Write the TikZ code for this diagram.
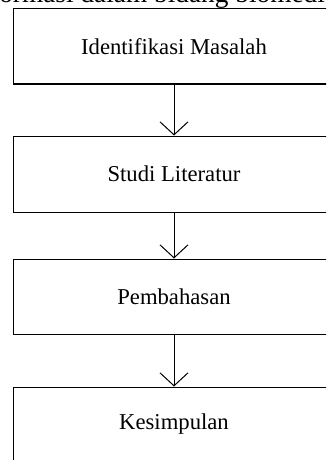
\documentclass[tikz,border=0pt]{standalone}
\usepackage{fontspec}
\setmainfont{Liberation Serif}
\usetikzlibrary{arrows.meta}
\begin{document}
\begin{tikzpicture}[x=0.75pt,y=-0.75pt,
  stepbox/.style={draw=black,line width=0.75pt,minimum width=241.5pt,minimum height=#1*0.75pt,inner sep=0pt,font=\fontsize{17}{20}\selectfont},
  flow/.style={draw=black,line width=0.75pt,-{Straight Barb[length=9.75pt,width=21pt]}}]
\useasboundingbox[fill=white] (0,0) rectangle (326,460);
\begin{scope}
\clip (0,0) rectangle (326,460);
\node[anchor=base west,inner sep=0pt,font=\fontsize{20.5}{23}\selectfont] (prev) at (-1,2.5) {ormasi dalam bidang biomedi};
\node[stepbox=75] (a) at (174,46.5) {Identifikasi Masalah};
\node[stepbox=76] (b) at (174,174) {Studi Literatur};
\node[stepbox=75] (c) at (174,296.5) {Pembahasan};
\node[stepbox=75] (d) at (174,424.5) {Kesimpulan};
\draw[flow] (a) -- (b);
\draw[flow] (b) -- (c);
\draw[flow] (c) -- (d);
\end{scope}
\end{tikzpicture}
\end{document}
